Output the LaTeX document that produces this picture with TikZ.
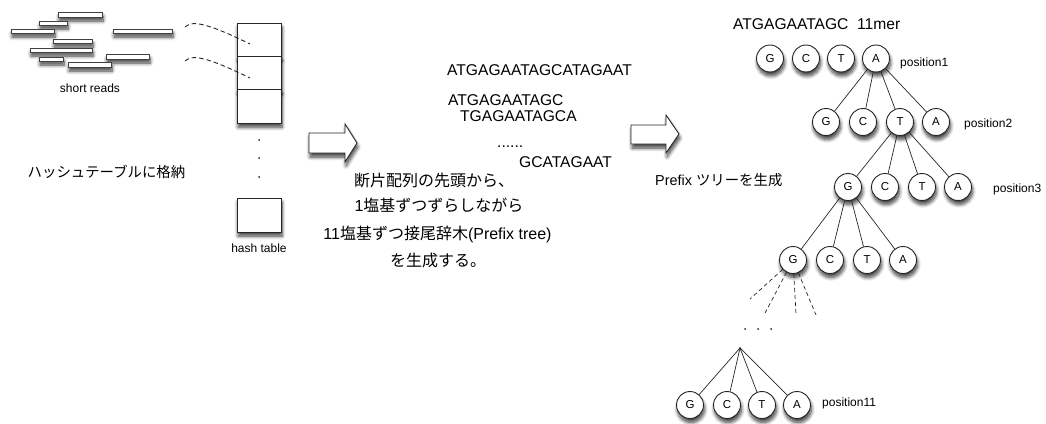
\documentclass[tikz,border=0pt]{standalone}
\usepackage{fontspec}
\setmainfont{Liberation Sans}
\newfontfamily\jp{Noto Sans CJK JP}
\usetikzlibrary{shadows.blur}

\tikzset{
  softshadow/.style={blur shadow={shadow xshift=1pt, shadow yshift=-4pt,
      shadow blur radius=3.5pt, shadow blur steps=8, shadow opacity=75}},
  seqtext/.style={font=\fontsize{15.6}{18}\selectfont, inner sep=0pt},
  smalltext/.style={font=\fontsize{12}{14}\selectfont, inner sep=0pt},
  jptext/.style={font=\fontsize{16}{18}\selectfont, inner sep=0pt},
  jpsmall/.style={font=\fontsize{14.4}{17}\selectfont, inner sep=0pt},
  basenode/.style={circle, draw=black!85, fill=white, line width=0.9pt,
      minimum size=27pt, inner sep=0pt, font=\fontsize{11.5}{13}\selectfont, softshadow},
  cell/.style={draw=black!85, fill=white, line width=0.9pt, minimum width=44pt,
      minimum height=33.5pt, inner sep=0pt, softshadow},
  readbar/.style={draw=black!75, fill=white, line width=0.9pt, softshadow},
  treeedge/.style={line width=0.7pt, draw=black!85},
  guide/.style={line width=0.9pt, draw=black!85, dash pattern=on 4.5pt off 3pt},
  blockarrow/.style={draw=black!85, fill=white, line width=0.9pt, line join=miter, softshadow}
}

\begin{document}
\begin{tikzpicture}[x=1pt, y=-1pt]
\useasboundingbox (0,0) rectangle (1046,423);

% short reads
\draw[readbar] (58,12) rectangle (102,17);
\draw[readbar] (39,21) rectangle (67,25);
\draw[readbar] (11,29) rectangle (54,33);
\draw[readbar] (113,29) rectangle (172,33);
\draw[readbar] (53,39) rectangle (92,43);
\draw[readbar] (30,48) rectangle (92,52);
\draw[readbar] (39,57) rectangle (63,61);
\draw[readbar] (106,54) rectangle (149,59);
\draw[readbar] (68,62) rectangle (111,67);
\node[smalltext, anchor=base] (readslabel) at (90,92.5) {short reads};

% hash table
\node[cell] (h1) at (259,40) {};
\node[cell] (h2) at (259,73.5) {};
\node[cell] (h3) at (259,106.5) {};
\node[cell, minimum height=34pt] (hlast) at (259,215) {};
\fill[black!85] (259,140) circle (1);
\fill[black!85] (259,158) circle (1);
\fill[black!85] (259,177) circle (1);
\node[smalltext, anchor=base] (hashlabel) at (259,252) {hash table};

% read-to-slot guides
\coordinate (r1) at (185,27);
\coordinate (s1) at (250,44);
\coordinate (r2) at (185,61);
\coordinate (s2) at (250,78);
\draw[guide] (r1) .. controls (192,21) and (203,21) .. (s1);
\draw[guide] (r2) .. controls (192,55) and (203,55) .. (s2);

\node[jpsmall, anchor=base] (store) at (106.5,177.5) {\jp ハッシュテーブルに格納};

% first block arrow
\draw[blockarrow] (309,133) -- (345,133) -- (345,124) -- (357,143) -- (345,162)
  -- (345,153) -- (309,153) -- cycle;

% k-mer extraction
\node[seqtext, anchor=base west] (fullseq) at (447,75.5) {ATGAGAATAGCATAGAAT};
\node[seqtext, anchor=base west] (k1) at (448,105.5) {ATGAGAATAGC};
\node[seqtext, anchor=base west] (k2) at (460,121) {TGAGAATAGCA};
\node[seqtext, anchor=base west] (kdots) at (497,147) {......};
\node[seqtext, anchor=base west] (klast) at (519,167) {GCATAGAAT};

\node[jptext, anchor=base] (line1) at (434,186) {\jp 断片配列の先頭から、};
\node[jptext, anchor=base] (line2) at (439,211) {1{\jp 塩基ずつずらしながら}};
\node[jptext, anchor=base] (line3) at (437.5,239) {11{\jp 塩基ずつ接尾辞木}(Prefix tree)};
\node[jptext, anchor=base] (line4) at (438,266) {\jp を生成する。};

% second block arrow
\draw[blockarrow] (631,125) -- (666,125) -- (666,115) -- (679,134) -- (666,153)
  -- (666,144) -- (631,144) -- cycle;
\node[jpsmall, anchor=base west] (prefixlabel) at (655,185.5) {Prefix {\jp ツリーを生成}};

% prefix tree
\node[seqtext, anchor=base west] (kmer) at (733,29) {ATGAGAATAGC\ \ 11mer};

\node[basenode] (g1) at (770,58.5) {G};
\node[basenode] (c1) at (806,58.5) {C};
\node[basenode] (t1) at (841,58.5) {T};
\node[basenode] (a1) at (876,58.5) {A};
\node[smalltext, anchor=base west] (pos1) at (900,66) {position1};

\node[basenode] (g2) at (826,122) {G};
\node[basenode] (c2) at (863,122) {C};
\node[basenode] (t2) at (900,122) {T};
\node[basenode] (a2) at (936,122) {A};
\node[smalltext, anchor=base west] (pos2) at (964,127) {position2};

\node[basenode] (g3) at (848,187) {G};
\node[basenode] (c3) at (885,187) {C};
\node[basenode] (t3) at (922,187) {T};
\node[basenode] (a3) at (958,187) {A};
\node[smalltext, anchor=base west] (pos3) at (993,192) {position3};

\node[basenode] (g4) at (793,260) {G};
\node[basenode] (c4) at (830,260) {C};
\node[basenode] (t4) at (867,260) {T};
\node[basenode] (a4) at (903,260) {A};

\node[basenode] (g11) at (690,405) {G};
\node[basenode] (c11) at (727,405) {C};
\node[basenode] (t11) at (762,405) {T};
\node[basenode] (a11) at (797,405) {A};
\node[smalltext, anchor=base west] (pos11) at (822,406) {position11};

\foreach \n in {g2,c2,t2,a2} \draw[treeedge] (a1) -- (\n);
\foreach \n in {g3,c3,t3,a3} \draw[treeedge] (t2) -- (\n);
\foreach \n in {g4,c4,t4,a4} \draw[treeedge] (g3) -- (\n);

% elided levels
\coordinate (d1) at (750,299);
\coordinate (d2) at (764,315);
\coordinate (d3) at (796,314);
\coordinate (d4) at (816,315);
\foreach \n in {d1,d2,d3,d4} \draw[treeedge, dash pattern=on 4pt off 3pt] (g4) -- (\n);
\fill[black!85] (745,329) circle (1);
\fill[black!85] (758,329) circle (1);
\fill[black!85] (771,329) circle (1);

\coordinate (apex) at (740,348);
\fill[black!85] (apex) circle (0.9);
\foreach \n in {g11,c11,t11,a11} \draw[treeedge] (apex) -- (\n);
\end{tikzpicture}
\end{document}
